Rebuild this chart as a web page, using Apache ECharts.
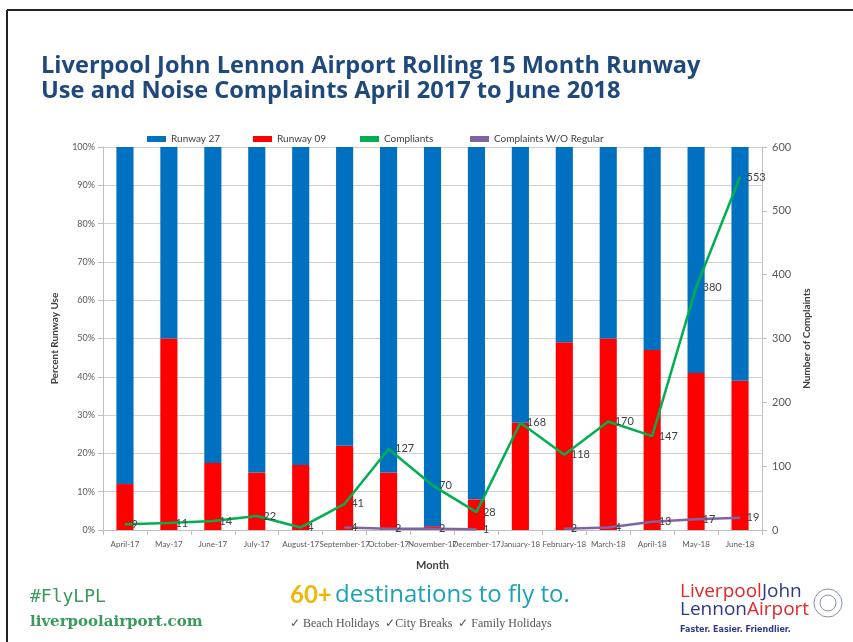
<!DOCTYPE html>
<html lang="en">
<head>
    <meta charset="UTF-8">
    <title>Runway Use and Noise Complaints</title>
    <script src="https://cdn.jsdelivr.net/npm/echarts@6/dist/echarts.min.js"></script>
    <style>
        html, body { margin: 0; padding: 0; background: #fff; }
        #container { width: 853px; height: 642px; }
    </style>
</head>
<body>
<div id="container"></div>
<script>
    var months = ['April-17', 'May-17', 'June-17', 'July-17', 'August-17', 'September-17', 'October-17',
        'November-17', 'December-17', 'January-18', 'February-18', 'March-18', 'April-18', 'May-18', 'June-18'];
    // percent of movements on runway 09
    var runway09 = [12, 50, 17.5, 15, 17, 22, 15, 1, 8, 28, 49, 50, 47, 41, 39];
    var runway27 = runway09.map(function (v) { return 100 - v; });
    var complaints = [9, 11, 14, 22, 4, 41, 127, 70, 28, 168, 118, 170, 147, 380, 553];
    var complaintsNoRegular = [null, null, null, null, null, 4, 2, 2, 1, null, 2, 4, 13, 17, 19];
    var percentTicks = [0, 10, 20, 30, 40, 50, 60, 70, 80, 90, 100];
    var legendNames = ['Runway 27', 'Runway 09', 'Compliants', 'Complaints W/O Regular'];
    var legendLeft = [142, 248, 355, 465];

    var labelStyle = {
        show: true,
        position: 'right',
        distance: 6,
        fontSize: 11,
        color: '#404040',
        fontFamily: 'Lato'
    };

    var legends = legendNames.map(function (name, i) {
        return {
            top: 129,
            left: legendLeft[i],
            itemWidth: 19,
            itemHeight: 6,
            itemGap: 2,
            icon: 'rect',
            textStyle: { fontSize: 10, color: '#404040', fontFamily: 'Lato' },
            data: [name]
        };
    });

    var options = {
        animation: false,
        backgroundColor: '#fff',
        title: {
            text: 'Liverpool John Lennon Airport Rolling 15 Month Runway\nUse and Noise Complaints April 2017 to June 2018',
            left: 36,
            top: 49,
            textStyle: {
                fontFamily: 'Open Sans',
                fontWeight: 'bold',
                fontSize: 23.6,
                lineHeight: 25,
                color: '#1F497D'
            }
        },
        legend: legends,
        grid: {
            left: 103,
            right: 91,
            top: 147,
            bottom: 112
        },
        xAxis: {
            type: 'category',
            data: months,
            name: 'Month',
            nameLocation: 'middle',
            nameGap: 30,
            nameTextStyle: { fontSize: 11, fontWeight: 'bold', color: '#404040', fontFamily: 'Lato' },
            axisLine: { lineStyle: { color: '#bfbfbf' } },
            axisTick: { show: true, length: 5, lineStyle: { color: '#bfbfbf' } },
            axisLabel: { interval: 0, fontSize: 8, color: '#595959', margin: 10, fontFamily: 'Lato' }
        },
        yAxis: [
            {
                type: 'value',
                min: 0,
                max: 100,
                interval: 10,
                name: 'Percent Runway Use',
                nameLocation: 'middle',
                nameRotate: 90,
                nameGap: 43,
                nameTextStyle: { fontSize: 10, fontWeight: 'bold', color: '#404040', fontFamily: 'Lato' },
                axisLine: { show: true, lineStyle: { color: '#bfbfbf' } },
                axisTick: { show: true, length: 5, lineStyle: { color: '#bfbfbf' } },
                axisLabel: { fontSize: 9, color: '#595959', margin: 8, fontFamily: 'Lato',
                    formatter: function (v) { return percentTicks.indexOf(v) >= 0 ? v + '%' : ''; } },
                splitLine: { show: true, lineStyle: { color: '#d0d0d0' } }
            },
            {
                type: 'value',
                min: 0,
                max: 600,
                interval: 100,
                position: 'right',
                name: 'Number of Complaints',
                nameLocation: 'middle',
                nameRotate: 90,
                nameGap: 33,
                nameTextStyle: { fontSize: 10, fontWeight: 'bold', color: '#404040', fontFamily: 'Lato' },
                axisLine: { show: true, lineStyle: { color: '#bfbfbf' } },
                axisTick: { show: true, length: 5, lineStyle: { color: '#bfbfbf' } },
                axisLabel: { fontSize: 11, color: '#595959', margin: 10, fontFamily: 'Lato' },
                splitLine: { show: false }
            }
        ],
        series: [
            {
                name: 'Runway 09',
                type: 'bar',
                stack: 'runway',
                barWidth: '39%',
                itemStyle: { color: '#FF0000' },
                data: runway09
            },
            {
                name: 'Runway 27',
                type: 'bar',
                stack: 'runway',
                barWidth: '39%',
                itemStyle: { color: '#0070C0' },
                data: runway27
            },
            {
                name: 'Compliants',
                type: 'line',
                yAxisIndex: 1,
                symbol: 'circle',
                symbolSize: 1,
                itemStyle: { color: '#00B050' },
                lineStyle: { color: '#00B050', width: 2.5 },
                label: labelStyle,
                data: complaints
            },
            {
                name: 'Complaints W/O Regular',
                type: 'line',
                yAxisIndex: 1,
                symbol: 'circle',
                symbolSize: 1,
                itemStyle: { color: '#8064A2' },
                lineStyle: { color: '#8064A2', width: 2.5 },
                label: labelStyle,
                data: complaintsNoRegular
            }
        ],
        graphic: [
            // slide frame
            { type: 'line', shape: { x1: 7, y1: 10, x2: 853, y2: 10 }, style: { stroke: '#222', lineWidth: 2 } },
            { type: 'line', shape: { x1: 7, y1: 10, x2: 7, y2: 642 }, style: { stroke: '#222', lineWidth: 2 } },
            // footer
            { type: 'text', left: 30, top: 588, style: { text: '#FlyLPL', font: '18px "DejaVu Sans Mono"', fill: '#3A9A5B' } },
            { type: 'text', left: 30, top: 615, style: { text: 'liverpoolairport.com', font: 'bold 15px "DejaVu Serif"', fill: '#3A9A5B' } },
            { type: 'text', left: 290, top: 583, style: {
                text: '{a|60+} {b|destinations to fly to.}',
                rich: {
                    a: { font: 'bold 24px Lato', fill: '#F2B705' },
                    b: { font: '24px "Open Sans"', fill: '#1BA3B3' }
                }
            } },
            { type: 'text', left: 290, top: 618, style: {
                text: '\u2713 Beach Holidays  \u2713City Breaks  \u2713 Family Holidays',
                font: '12px "Liberation Sans Narrow"', fill: '#555' } },
            { type: 'text', left: 680, top: 582, style: {
                text: '{r|Liverpool}{b|John}\n{b|Lennon}{r|Airport}',
                rich: {
                    r: { font: '19px "Open Sans"', fill: '#E3262B', lineHeight: 18 },
                    b: { font: '19px "Open Sans"', fill: '#2E3A87', lineHeight: 18 }
                }
            } },
            { type: 'text', left: 680, top: 626, style: { text: 'Faster. Easier. Friendlier.', font: 'bold 8px "DejaVu Sans"', fill: '#2E3A87' } },
            { type: 'circle', shape: { cx: 828, cy: 603, r: 14 }, style: { fill: 'none', stroke: '#8A8FB5', lineWidth: 1 } },
            { type: 'circle', shape: { cx: 828, cy: 603, r: 8 }, style: { fill: 'none', stroke: '#8A8FB5', lineWidth: 1 } }
        ]
    };

    var myChart = echarts.init(document.getElementById('container'));
    myChart.setOption(options);
</script>
</body>
</html>
